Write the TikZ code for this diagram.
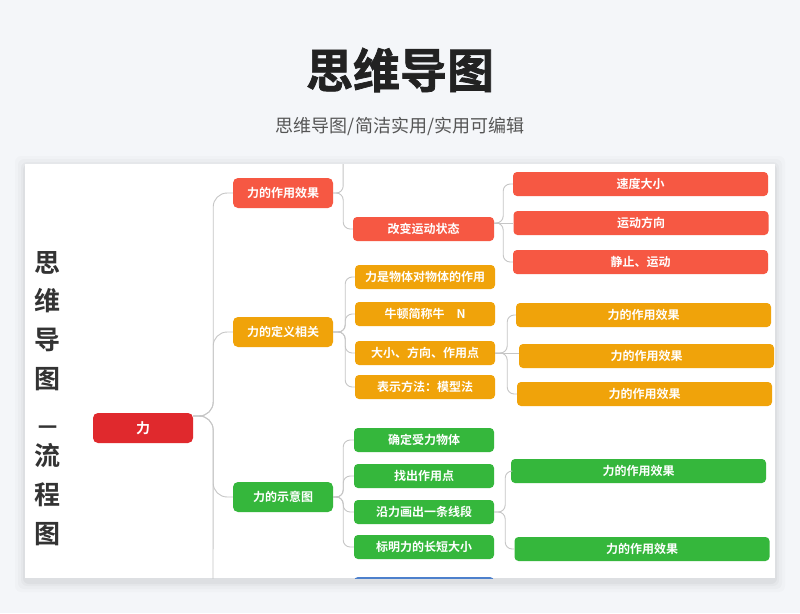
\documentclass[tikz,border=0pt]{standalone}
\usepackage{fontspec}
\setmainfont{Noto Sans CJK SC}[BoldFont=* Bold]
\newfontfamily\titlefont{Noto Sans CJK SC}[UprightFont=* Bold, FakeBold=1.5]
\usetikzlibrary{positioning, calc}
\definecolor{bgc}{HTML}{F4F6F9}
\definecolor{titlec}{HTML}{222222}
\definecolor{subc}{HTML}{555555}
\definecolor{sidec}{HTML}{333333}
\definecolor{rootc}{HTML}{E0292D}
\definecolor{redc}{HTML}{F65843}
\definecolor{orgc}{HTML}{F0A30A}
\definecolor{grnc}{HTML}{35B73C}
\definecolor{bluc}{HTML}{4D80CC}
\definecolor{linec}{HTML}{C6C6C6}

\begin{document}
\begin{tikzpicture}[x=1pt, y=-1pt,
    box/.style={rectangle, rounded corners=4pt, text=white, inner sep=0pt,
                font=\bfseries\fontsize{12}{12}\selectfont},
    rootbox/.style={box, fill=rootc, minimum width=100pt, minimum height=30pt,
                    rounded corners=5pt, font=\bfseries\fontsize{14}{14}\selectfont},
    lvone/.style={box, minimum width=100pt, minimum height=30pt, rounded corners=5pt},
    lvtwo/.style={box, minimum width=140pt, minimum height=24pt},
    lvthree/.style={box, minimum width=255pt, minimum height=24pt},
    link/.style={draw=linec, line width=0.9pt, rounded corners=7pt},
    vchar/.style={text=sidec, font=\bfseries\fontsize{26}{26}\selectfont}
]
% Background and card
\fill[bgc] (0,0) rectangle (800,613);
\foreach \s/\o in {10/0.015, 7/0.02, 4/0.025, 2/0.03}
  \fill[black, opacity=\o, rounded corners=6pt] (25-\s,164-\s+2) rectangle (775+\s,578+\s+4);
\fill[white] (25,164) rectangle (775,578);

% Titles
\node[font=\titlefont\fontsize{47}{47}\selectfont, text=titlec] (title) at (400,70) {思维导图};
\node[font=\fontsize{18}{18}\selectfont, text=subc] (subtitle) at (400,126) {思维导图/简洁实用/实用可编辑};

% Side text
\foreach \c/\y [count=\i] in {思/263, 维/301, 导/340, 图/379, 流/456, 程/495, 图/534}
  \node[vchar] (v\i) at (47.5,\y) {\c};
\node[vchar, font=\bfseries\fontsize{19}{19}\selectfont] (vdash) at (48,430) {一};

\begin{scope}
\clip (25,164) rectangle (775,578);
% Nodes
\node[rootbox] (root) at (143,428) {力};
\node[lvone, fill=redc] (effect) at (283,193) {力的作用效果};
\node[lvone, fill=orgc] (define) at (283,332) {力的定义相关};
\node[lvone, fill=grnc] (sketch) at (283,497) {力的示意图};

\node[lvtwo, minimum width=141pt, fill=redc] (motion) at (423.5,229) {改变运动状态};
\node[lvthree, fill=redc] (speed) at (640.5,184) {速度大小};
\node[lvthree, fill=redc] (direction) at (641,223) {运动方向};
\node[lvthree, fill=redc] (restmove) at (640.5,262) {静止、运动};

\node[lvtwo, fill=orgc] (mutual) at (425,277) {力是物体对物体的作用};
\node[lvtwo, fill=orgc] (newton) at (425,314) {牛顿简称牛\quad N};
\node[lvtwo, fill=orgc] (three) at (425,353) {大小、方向、作用点};
\node[lvtwo, fill=orgc] (model) at (425,387) {表示方法：模型法};
\node[lvthree, fill=orgc] (threea) at (643.5,315) {力的作用效果};
\node[lvthree, fill=orgc] (threeb) at (646.5,356) {力的作用效果};
\node[lvthree, fill=orgc] (threec) at (644.5,394) {力的作用效果};

\node[lvtwo, fill=grnc] (body) at (424,440) {确定受力物体};
\node[lvtwo, fill=grnc] (point) at (424,476) {找出作用点};
\node[lvtwo, fill=grnc] (segment) at (424,512) {沿力画出一条线段};
\node[lvtwo, fill=grnc] (length) at (424,547) {标明力的长短大小};
\node[lvthree, fill=grnc] (sega) at (638.5,471) {力的作用效果};
\node[lvthree, fill=grnc] (segb) at (642,549) {力的作用效果};
\node[lvtwo, fill=bluc] (nextbox) at (424,589) {};

% Connectors
\coordinate (rootfk) at ($(root.east)+(0,-12)$);
\coordinate (botcut) at (213,590);
\coordinate (topcut) at (343,150);
\coordinate (motionfk) at ($(motion.east)+(0,-6)$);
\foreach \n in {effect, define, sketch}
  \draw[link, rounded corners=14pt] (rootfk) -- ++(20,0) |- (\n.west);
\draw[link, rounded corners=14pt] (rootfk) -- ++(20,0) -- (botcut);

\draw[link] (effect.east) -- ++(10,0) -- (topcut);
\draw[link] (effect.east) -- ++(10,0) |- (motion.west);

\draw[link] (motionfk) -- ++(9,0) |- (speed.west);
\draw[link] (motionfk) -- (direction.west |- motionfk);
\draw[link] (motionfk) -- ++(9,0) |- (restmove.west);

\foreach \n in {mutual, newton, three, model}
  \draw[link] (define.east) -- ++(12,0) |- (\n.west);
\draw[link] (three.east) -- ++(12,0) |- (threea.west);
\draw[link] (three.east) -- (threeb.west |- three.east);
\draw[link] (three.east) -- ++(12,0) |- (threec.west);

\foreach \n in {body, point, segment, length}
  \draw[link] (sketch.east) -- ++(10,0) |- (\n.west);
\draw[link] (segment.east) -- ++(11,0) |- (sega.west);
\draw[link] (segment.east) -- ++(11,0) |- (segb.west);
\end{scope}
\end{tikzpicture}
\end{document}
